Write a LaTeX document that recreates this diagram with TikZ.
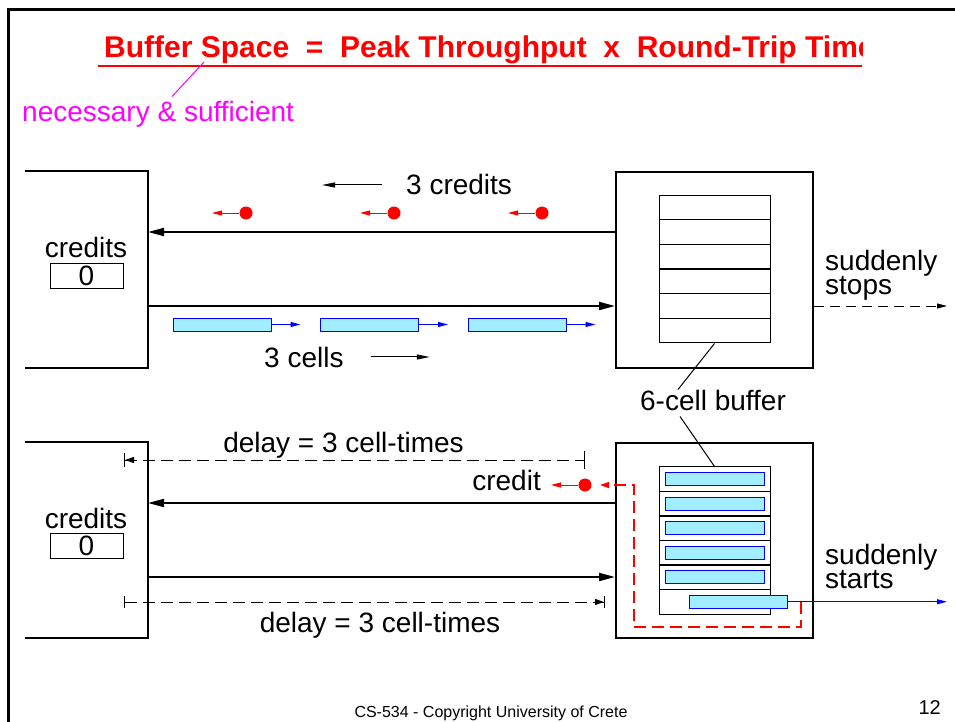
\documentclass[tikz,border=0pt]{standalone}
\usepackage{fontspec}
\setmainfont{Liberation Sans}
\usetikzlibrary{arrows.meta,positioning}

\definecolor{cellcyan}{RGB}{160,238,255}
\definecolor{notepink}{RGB}{255,0,255}
\newcommand{\bodyfont}{\fontsize{28}{24}\selectfont}

\tikzset{
  frame/.style={line width=2pt},
  bigbox/.style={draw, line width=2pt, minimum width=197pt, minimum height=196pt, inner sep=0pt},
  slot/.style={draw, line width=1pt, minimum width=111pt, minimum height=24.6pt, inner sep=0pt},
  cell/.style={draw=blue, fill=cellcyan, line width=1pt, minimum width=98pt, minimum height=13pt, inner sep=0pt},
  counter/.style={draw, line width=1pt, minimum width=73pt, minimum height=25pt, inner sep=0pt, font=\bodyfont},
  token/.style={circle, fill=red, minimum size=13pt, inner sep=0pt},
  link/.style={line width=2pt, -{Triangle[length=16pt,width=8pt]}},
  tiny/.style={line width=1pt, -{Triangle[length=10pt,width=5pt]}},
  dly/.style={line width=1pt, dash pattern=on 12pt off 6pt},
  txt/.style={inner sep=0pt, font=\bodyfont},
}

\begin{document}
\begin{tikzpicture}[x=1pt, y=-1pt]
  \useasboundingbox (0,0) rectangle (955,722);

  % slide frame and title
  \draw[line width=3pt] (8,722) -- (8,10) -- (955,10);
  \begin{scope}
    \clip (0,0) rectangle (862,722);
    \node[txt, anchor=base west, text=red, font=\fontsize{30}{32}\selectfont\bfseries] (title) at (104,58)
      {Buffer Space~~=~~Peak Throughput~~x~~Round-Trip Time};
  \end{scope}
  \draw[red, line width=1.5pt] (98,66) -- (862,66);
  \node[txt, anchor=base west, text=notepink] (note) at (22,122) {necessary \& sufficient};
  \draw[notepink, line width=1pt] ([shift={(150,-5)}]note.north west) -- ([shift={(100,4)}]title.base west);

  % --- upper case: buffer full, credits returning
  \draw[frame] (25,171) -- (148,171) -- (148,368) -- (25,368);
  \node[txt, anchor=base] (lab1) at (86,257) {credits};
  \node[counter] (cnt1) at (86.5,275.5) {0};
  \node[bigbox] (sw1) at (714.5,270) {};
  \foreach \j in {1,...,6}
    \node[slot] (s1\j) at (714.5,{195+24.67*(\j-0.5)}) {};

  \coordinate (l1a) at (148,232);
  \coordinate (l1b) at (148,306);
  \draw[link] (sw1.west |- l1a) -- (l1a);
  \draw[link] (l1b) -- (sw1.west |- l1b);

  \foreach \i/\x in {1/246,2/394,3/542} {
    \node[token] (t\i) at (\x,213) {};
    \coordinate (t\i e) at (\x-34,213);
    \draw[tiny, red] (t\i) -- (t\i e);
  }
  \node[txt, anchor=base west] (crl) at (406,195) {3 credits};
  \coordinate[left=24pt of crl] (cra);
  \coordinate[left=60pt of cra] (crb);
  \draw[line width=1pt, -{Triangle[length=13pt,width=5pt]}] (cra) -- (crb);

  \foreach \i/\x in {1/222,2/369.5,3/517} {
    \node[cell] (c\i) at (\x,324.5) {};
    \coordinate[right=29pt of c\i] (c\i e);
    \draw[tiny, blue] (c\i) -- (c\i e);
  }
  \node[txt, anchor=base west] (cel) at (264,367) {3 cells};
  \coordinate[right=27pt of cel] (cla);
  \coordinate[right=59pt of cla] (clb);
  \draw[line width=1pt, -{Triangle[length=13pt,width=5pt]}] (cla) -- (clb);

  \coordinate (so) at (947,306);
  \draw[line width=1pt, dash pattern=on 10pt off 6pt, -{Triangle[length=10pt,width=5pt]}] (sw1.east |- so) -- (so);
  \node[txt, anchor=base west, align=left] (stp) at (825,294) {suddenly\\stops};

  \node[txt, anchor=base] (bl) at (713,410) {6-cell buffer};
  \draw[line width=1pt] (s16.south) -- ([xshift=-35pt]bl.north);

  % --- lower case: buffer drains, one credit sent back
  \draw[frame] (25,442) -- (148,442) -- (148,638) -- (25,638);
  \node[txt, anchor=base] (lab2) at (86,528) {credits};
  \node[counter] (cnt2) at (86.5,546) {0};
  \node[bigbox, minimum height=195pt] (sw2) at (714.5,540.5) {};
  \foreach \j in {1,...,6}
    \node[slot] (s2\j) at (714.5,{467+24.5*(\j-0.5)}) {};
  \foreach \j in {1,...,5}
    \node[cell, minimum width=99pt] (b\j) at (s2\j) {};
  \node[cell] (b6) at ([xshift=24pt]s26.center) {};
  \draw[line width=1pt] ([xshift=-33pt,yshift=-6pt]bl.south) -- (s21.north);

  \coordinate (go) at (947,602);
  \draw[tiny, blue] (b6) -- (b6 -| go);
  \node[txt, anchor=base west, align=left] (sta) at (825,588) {suddenly\\starts};

  \coordinate (l2a) at (148,503);
  \coordinate (l2b) at (148,577);
  \draw[link] (sw2.west |- l2a) -- (l2a);
  \draw[link] (l2b) -- (sw2.west |- l2b);

  \coordinate (d1a) at (124,460);
  \coordinate (d1b) at (585,460);
  \draw[dly, {Bar[width=14pt]Triangle[length=9pt,width=6pt]}-{Bar[width=18pt]}] (d1a) -- (d1b);
  \node[txt, anchor=base] (dt1) at (343.5,452) {delay = 3 cell-times};
  \coordinate (d2a) at (124,602);
  \coordinate (d2b) at (605,602);
  \draw[dly, {Bar[width=12pt]}-{Triangle[length=9pt,width=6pt]Bar[width=12pt]}] (d2a) -- (d2b);
  \node[txt, anchor=base] (dt2) at (380,632) {delay = 3 cell-times};

  \node[token] (tk) at (585,485) {};
  \coordinate (tke) at (551,485);
  \draw[tiny, red] (tk) -- (tke);
  \node[txt, anchor=base east] (crd) at (541,490) {credit};
  \coordinate (rr) at (801,602);
  \coordinate (rt) at (600,485);
  \draw[red, dly, line width=1.4pt, -{Triangle[length=9pt,width=6pt]}] (rr) |- (634,627) |- (rt);

  % footer
  \node[txt, anchor=base, font=\fontsize{16}{18}\selectfont] (foot) at (491,717) {CS-534 - Copyright University of Crete};
  \node[txt, anchor=base east, font=\fontsize{20}{22}\selectfont] (pg) at (941,714) {12};
\end{tikzpicture}
\end{document}
